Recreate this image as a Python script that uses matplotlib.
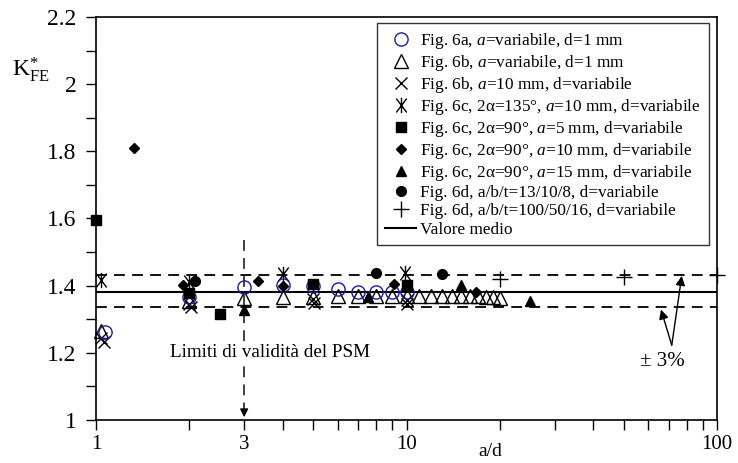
import matplotlib
matplotlib.use("Agg")
import matplotlib.pyplot as plt
from matplotlib.path import Path
import numpy as np

plt.rcParams['font.family'] = ['Liberation Serif', 'DejaVu Serif']
plt.rcParams['mathtext.fontset'] = 'custom'
plt.rcParams['mathtext.rm'] = 'Liberation Serif'
plt.rcParams['mathtext.it'] = 'Liberation Serif:italic'

# ---- data (a/d, K*_FE) ----
fig6a_x = [1.07, 2, 3, 4, 5, 6, 7, 8, 9, 10]
fig6a_y = [1.263, 1.367, 1.395, 1.402, 1.400, 1.389, 1.382, 1.380, 1.382, 1.382]

fig6b1_x = [1.04, 2, 3, 4, 5, 6, 7, 8, 9, 10, 11, 12, 13, 14, 15, 16, 17, 18, 19, 20]
fig6b1_y = [1.265, 1.355, 1.362, 1.367, 1.367, 1.369, 1.369, 1.369, 1.369, 1.369,
            1.369, 1.369, 1.369, 1.369, 1.369, 1.369, 1.368, 1.367, 1.366, 1.362]

fig6b2_x = [1.04, 1.06, 2, 2.03, 5, 5.02, 10, 10.05]
fig6b2_y = [1.245, 1.232, 1.345, 1.335, 1.360, 1.348, 1.357, 1.345]

fig6c135_x = [1.04, 2.0, 4.0, 9.9]
fig6c135_y = [1.417, 1.410, 1.436, 1.438]

fig6c90a5_x = [1.0, 2.0, 2.5, 5.0, 10.0]
fig6c90a5_y = [1.595, 1.377, 1.317, 1.405, 1.402]

fig6c90a10_x = [1.33, 1.9, 3.33, 4.0, 9.1, 16.7]
fig6c90a10_y = [1.810, 1.402, 1.415, 1.400, 1.405, 1.382]

fig6c90a15_x = [3.0, 7.5, 15.0, 25.0]
fig6c90a15_y = [1.327, 1.365, 1.402, 1.355]

fig6d1_x = [2.08, 8.0, 13.0]
fig6d1_y = [1.415, 1.438, 1.435]

fig6d2_x = [20.0, 50.0, 100.0]
fig6d2_y = [1.421, 1.426, 1.432]

mean_value = 1.382
band_low, band_high = 1.336, 1.431

x_ticks = [1, 3, 10, 100]
x_ticklabels = ['1', '3', '10', '100']
y_ticks = [1.0, 1.2, 1.4, 1.6, 1.8, 2.0, 2.2]
y_ticklabels = ['1', '1.2', '1.4', '1.6', '1.8', '2', '2.2']

labels = [
    r'Fig. 6a, $a$=variabile, d=1 mm',
    r'Fig. 6b, $a$=variabile, d=1 mm',
    r'Fig. 6b, $a$=10 mm, d=variabile',
    r'Fig. 6c, 2α=135°, $a$=10 mm, d=variabile',
    r'Fig. 6c, 2α=90°, $a$=5 mm, d=variabile',
    r'Fig. 6c, 2α=90°, $a$=10 mm, d=variabile',
    r'Fig. 6c, 2α=90°, $a$=15 mm, d=variabile',
    r'Fig. 6d, a/b/t=13/10/8, d=variabile',
    r'Fig. 6d, a/b/t=100/50/16, d=variabile',
    'Valore medio',
]

# ---- figure ----
fig = plt.figure(figsize=(7.38, 4.63), dpi=100)
ax = fig.add_axes([96/738, 43/463, 621/738, 403/463])
ax.set_xscale('log')
ax.set_xlim(1, 100)
ax.set_ylim(1, 2.2)

ast = Path([(-0.75, -1), (0.75, 1), (-0.75, 1), (0.75, -1), (0, -1.1), (0, 1.1)],
           [Path.MOVETO, Path.LINETO, Path.MOVETO, Path.LINETO, Path.MOVETO, Path.LINETO])

blue = '#1c1ca0'
h = []
h.append(ax.plot(fig6a_x, fig6a_y, ls='none', marker='o', ms=9.5, mfc='none', mec=blue, mew=1.0, zorder=5, clip_on=False)[0])
h.append(ax.plot(fig6b1_x, fig6b1_y, ls='none', marker='^', ms=10, mfc='none', mec='black', mew=1.0, zorder=4, clip_on=False)[0])
h.append(ax.plot(fig6b2_x, fig6b2_y, ls='none', marker='x', ms=9, mec='black', mew=1.0, zorder=4, clip_on=False)[0])
h.append(ax.plot(fig6c135_x, fig6c135_y, ls='none', marker=ast, ms=11, mec='black', mew=1.0, zorder=4, clip_on=False)[0])
h.append(ax.plot(fig6c90a5_x, fig6c90a5_y, ls='none', marker='s', ms=6.5, mfc='black', mec='black', zorder=6, clip_on=False)[0])
h.append(ax.plot(fig6c90a10_x, fig6c90a10_y, ls='none', marker='D', ms=5, mfc='black', mec='black', zorder=6, clip_on=False)[0])
h.append(ax.plot(fig6c90a15_x, fig6c90a15_y, ls='none', marker='^', ms=7, mfc='black', mec='black', zorder=6, clip_on=False)[0])
h.append(ax.plot(fig6d1_x, fig6d1_y, ls='none', marker='o', ms=7, mfc='black', mec='black', zorder=6, clip_on=False)[0])
h.append(ax.plot(fig6d2_x, fig6d2_y, ls='none', marker='+', ms=11, mec='black', mew=1.0, zorder=4, clip_on=False)[0])

ml = ax.axhline(mean_value, color='black', lw=1.5, zorder=3)
h.append(ml)
ax.axhline(band_high, color='black', lw=1.3, ls=(0, (6, 4)), zorder=3)
ax.axhline(band_low, color='black', lw=1.3, ls=(0, (6, 4)), zorder=3)

# validity limit
ax.plot([3, 3], [1.536, 1.025], color='#333333', lw=1.3, ls=(0, (6, 4)), zorder=2)
ax.annotate('', xy=(3, 1.0), xytext=(3, 1.03),
            arrowprops=dict(arrowstyle='-|>', color='black', lw=1.0, mutation_scale=12))
ax.text(1.73, 1.20, 'Limiti di validità del PSM', fontsize=13.8, ha='left', va='center',
        bbox=dict(facecolor='white', edgecolor='none', pad=1), zorder=3)

# +/- 3%
ax.text(56.5, 1.173, '± 3%', fontsize=15, ha='left', va='center')
for tx, ty in [(77, 1.429), (66, 1.329)]:
    ax.annotate('', xy=(tx, ty), xytext=(71.5, 1.223),
                arrowprops=dict(arrowstyle='-|>', color='black', lw=1.0, mutation_scale=14,
                                shrinkA=0, shrinkB=0))

ax.set_xticks(x_ticks)
ax.set_xticklabels(x_ticklabels, fontsize=15)
ax.xaxis.set_minor_locator(matplotlib.ticker.LogLocator(base=10, subs=np.arange(2, 10)))
ax.xaxis.set_minor_formatter(matplotlib.ticker.NullFormatter())
ax.set_yticks(y_ticks)
ax.set_yticklabels(y_ticklabels, fontsize=17)
ax.yaxis.set_minor_locator(matplotlib.ticker.MultipleLocator(0.1))
ax.tick_params(which='both', direction='out', width=1.0, top=False, right=False)
ax.tick_params(which='major', length=7)
ax.tick_params(axis='y', which='major', pad=7)
ax.tick_params(axis='x', which='major', pad=4)
ax.tick_params(which='minor', length=7)
for s in ax.spines.values():
    s.set_linewidth(1.2)

fig.text(490/738, 1 - 452/463, 'a/d', fontsize=14, ha='center', va='center')
fig.text(12/738, 1 - 70/463, r'$\mathrm{K}^{*}_{\mathrm{FE}}$', fontsize=17, ha='left', va='center')

leg = ax.legend(h, labels, loc='upper right', bbox_to_anchor=(0.987, 0.985), borderaxespad=0,
                fontsize=12.4, frameon=True, fancybox=False, edgecolor='black', numpoints=1,
                handlelength=1.8, handletextpad=0.25, labelspacing=0.12, borderpad=0.45)
leg.get_frame().set_linewidth(1.0)

fig.savefig('out.png', dpi=100)
